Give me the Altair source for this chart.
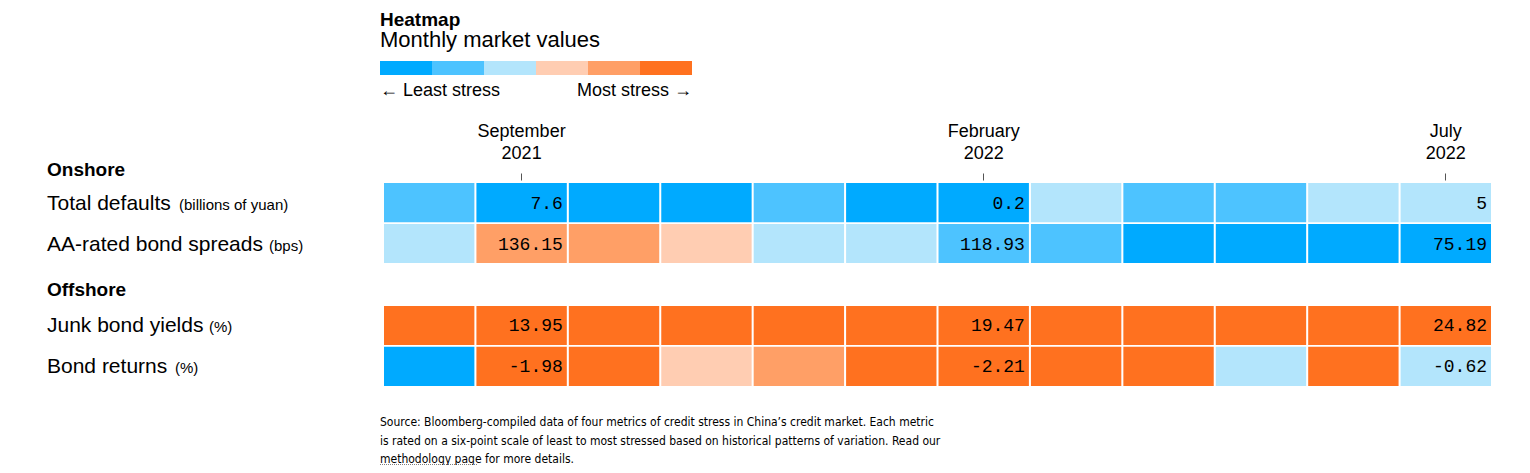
import altair as alt
import pandas as pd

# ---------------- data ----------------
months = ["August 2021", "September 2021", "October 2021", "November 2021",
          "December 2021", "January 2022", "February 2022", "March 2022",
          "April 2022", "May 2022", "June 2022", "July 2022"]
label_months = ["September 2021", "February 2022", "July 2022"]

rows = ["Total defaults", "AA-rated bond spreads", "Junk bond yields", "Bond returns"]
units = ["(billions of yuan)", "(bps)", "(%)", "(%)"]
groups = ["Onshore", "Offshore"]

levels_defaults = [2, 1, 1, 1, 2, 1, 1, 3, 2, 2, 3, 3]
levels_spreads = [3, 5, 5, 4, 3, 3, 2, 2, 1, 1, 1, 1]
levels_junk = [6, 6, 6, 6, 6, 6, 6, 6, 6, 6, 6, 6]
levels_returns = [1, 6, 6, 4, 5, 6, 6, 6, 6, 3, 6, 3]

values_defaults = ["7.6", "0.2", "5"]
values_spreads = ["136.15", "118.93", "75.19"]
values_junk = ["13.95", "19.47", "24.82"]
values_returns = ["-1.98", "-2.21", "-0.62"]

stress_levels = [1, 2, 3, 4, 5, 6]
stress_colors = ["#00aaff", "#4dc3ff", "#b3e5fc", "#ffcdb2", "#ff9f66", "#ff711f"]
legend_labels = ["\u2190 Least stress", "Most stress \u2192"]

title_text = "Heatmap"
subtitle_text = "Monthly market values"
source_lines = [
    "Source: Bloomberg-compiled data of four metrics of credit stress in China\u2019s credit market. Each metric",
    "is rated on a six-point scale of least to most stressed based on historical patterns of variation. Read our",
    "methodology page for more details.",
]

# ---------------- tables ----------------
all_levels = [levels_defaults, levels_spreads, levels_junk, levels_returns]
all_values = [values_defaults, values_spreads, values_junk, values_returns]

cells_df = pd.DataFrame([
    {"row": r, "month": m, "level": lv}
    for r, lvls in zip(rows, all_levels)
    for m, lv in zip(months, lvls)
])
values_df = pd.DataFrame([
    {"row": r, "month": m, "value": v}
    for r, vals in zip(rows, all_values)
    for m, v in zip(label_months, vals)
])
rows_df = pd.DataFrame({"row": rows, "unit": units})
legend_df = pd.DataFrame({"level": stress_levels})
one = pd.DataFrame({"k": [0]})

y_domain = [rows[0], rows[1], "gap", rows[2], rows[3]]

FONT = "Liberation Sans"
LABEL_X = -337
UNIT_X = [-205, -115, -175, -209]

x_scale = alt.Scale(domain=months, paddingInner=0.022, paddingOuter=0)
y_scale = alt.Scale(domain=y_domain, paddingInner=0.045, paddingOuter=0)
color_scale = alt.Scale(domain=stress_levels, range=stress_colors)

x_axis = alt.Axis(orient="top", values=label_months,
                  labelExpr="split(datum.value, ' ')",
                  domain=False, ticks=True, tickSize=7, tickColor="#555",
                  tickWidth=1, offset=3, labelFontSize=18, labelLineHeight=22,
                  labelPadding=33, labelColor="#000", labelFont=FONT,
                  labelAngle=0, title=None, grid=False)

cells = alt.Chart(cells_df).mark_rect().encode(
    x=alt.X("month:N", sort=months, scale=x_scale, axis=x_axis),
    y=alt.Y("row:N", scale=y_scale, axis=None),
    color=alt.Color("level:O", scale=color_scale, legend=None),
)

values = alt.Chart(values_df).mark_text(
    align="right", baseline="middle", dx=-4, dy=1,
    font="Liberation Mono", fontSize=18, color="#000"
).encode(
    x=alt.X("month:N", sort=months, scale=x_scale, bandPosition=1, axis=x_axis),
    y=alt.Y("row:N", scale=y_scale, axis=None),
    text="value:N",
)

row_labels = alt.Chart(rows_df).mark_text(
    align="left", baseline="middle", dy=1, font=FONT, fontSize=21, color="#000"
).encode(
    x=alt.value(LABEL_X),
    y=alt.Y("row:N", scale=y_scale, axis=None),
    text="row:N",
)

unit_layers = []
for i, r in enumerate(rows):
    unit_layers.append(
        alt.Chart(rows_df).transform_filter(alt.datum.row == r).mark_text(
            align="left", baseline="middle", dy=2, font=FONT, fontSize=15, color="#000"
        ).encode(
            x=alt.value(UNIT_X[i]),
            y=alt.Y("row:N", scale=y_scale, axis=None),
            text="unit:N",
        )
    )

onshore = alt.Chart(one).mark_text(
    align="left", baseline="alphabetic", font=FONT, fontSize=19, fontWeight="bold", color="#000"
).encode(x=alt.value(LABEL_X), y=alt.value(-7), text=alt.value(groups[0]))

offshore = alt.Chart(one).mark_text(
    align="left", baseline="alphabetic", font=FONT, fontSize=19, fontWeight="bold", color="#000"
).encode(x=alt.value(LABEL_X), y=alt.value(113), text=alt.value(groups[1]))

title = alt.Chart(one).mark_text(
    align="left", baseline="alphabetic", font=FONT, fontSize=19, fontWeight="bold", color="#000"
).encode(x=alt.value(-4), y=alt.value(-157.5), text=alt.value(title_text))

subtitle = alt.Chart(one).mark_text(
    align="left", baseline="alphabetic", font=FONT, fontSize=22, color="#000"
).encode(x=alt.value(-4), y=alt.value(-136), text=alt.value(subtitle_text))

legend_bar = alt.Chart(legend_df).mark_rect().encode(
    x=alt.X("level:O", scale=alt.Scale(range=[-4, 308], paddingInner=0, paddingOuter=0), axis=None),
    y=alt.value(-122),
    y2=alt.value(-108),
    color=alt.Color("level:O", scale=color_scale, legend=None),
)

legend_left = alt.Chart(one).mark_text(
    align="left", baseline="alphabetic", font=FONT, fontSize=18, color="#000"
).encode(x=alt.value(-4), y=alt.value(-87), text=alt.value(legend_labels[0]))

legend_right = alt.Chart(one).mark_text(
    align="right", baseline="alphabetic", font=FONT, fontSize=18, color="#000"
).encode(x=alt.value(308), y=alt.value(-87), text=alt.value(legend_labels[1]))

source = alt.Chart(one).mark_text(
    align="left", baseline="alphabetic", font="DejaVu Sans Condensed, Liberation Sans",
    fontSize=12, lineHeight=18.5, color="#000"
).encode(x=alt.value(-4), y=alt.value(243), text=alt.value(source_lines))

underline = alt.Chart(one).mark_rule(strokeDash=[1, 1], color="#000", strokeWidth=1).encode(
    x=alt.value(-4), x2=alt.value(93), y=alt.value(282)
)

main = alt.layer(cells, values, row_labels, *unit_layers, onshore, offshore,
                 title, subtitle, legend_left, legend_right, source, underline)

chart = alt.layer(main, legend_bar).resolve_scale(x="independent").properties(
    width=1107,
    height=203,
    padding={"left": 376, "top": 175, "right": 30, "bottom": 79},
    autosize=alt.AutoSizeParams(type="none"),
).configure_view(stroke=None)

chart.save("out.html", embed_options={"renderer": "svg", "actions": False})
